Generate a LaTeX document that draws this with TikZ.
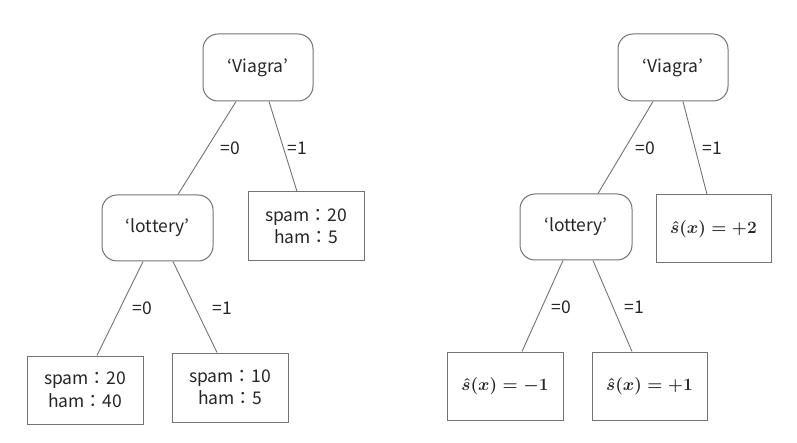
\documentclass[tikz,border=0pt]{standalone}
\usepackage{fontspec}
\setmainfont{Noto Sans CJK JP}
\usetikzlibrary{calc}
\begin{document}
\begin{tikzpicture}[x=1pt,y=-1pt,
  txt/.style={font=\fontsize{17.5}{22.5}\selectfont, text=black!85},
  test/.style={txt, draw=black!55, line width=1pt, rounded corners=15pt, inner sep=0pt},
  leaf/.style={txt, draw=black!55, line width=1pt, inner sep=0pt, align=center},
  mleaf/.style={leaf, font=\fontsize{17}{21}\selectfont\boldmath},
  edge/.style={draw=black!55, line width=0.9pt},
  lbl/.style={txt, inner sep=0pt}]
\useasboundingbox (0,0) rectangle (797,443);
% left tree
\node[test, minimum width=110pt, minimum height=67pt] (v1) at (258,67.5) {‘Viagra’};
\node[test, minimum width=111pt, minimum height=66pt] (l1) at (157.5,228) {‘lottery’};
\node[leaf, minimum width=116pt, minimum height=69pt] (a1) at (306,226.5) {spam：20\\ham：5};
\node[leaf, minimum width=116pt, minimum height=68pt] (b1) at (85,390) {spam：20\\ham：40};
\node[leaf, minimum width=116pt, minimum height=69pt] (c1) at (230,387.5) {spam：10\\ham：5};
\draw[edge] ([xshift=-22pt]v1.south) -- ([xshift=20.5pt]l1.north);
\draw[edge] ([xshift=11pt]v1.south) -- ([xshift=-9pt]a1.north);
\draw[edge] ([xshift=-14.5pt]l1.south) -- ([xshift=12pt]b1.north);
\draw[edge] ([xshift=15.5pt]l1.south) -- ([xshift=-13pt]c1.north);
\node[lbl] (e1) at (230,148) {=0};
\node[lbl] (e2) at (297,148) {=1};
\node[lbl] (e3) at (142,308) {=0};
\node[lbl] (e4) at (222,308) {=1};
% right tree
\node[test, minimum width=110pt, minimum height=67pt] (v2) at (673,67.5) {‘Viagra’};
\node[test, minimum width=112pt, minimum height=66pt] (l2) at (576,227) {‘lottery’};
\node[mleaf, minimum width=115pt, minimum height=68pt] (a2) at (713.5,229) {$\hat{s}(x)=+2$};
\node[mleaf, minimum width=116pt, minimum height=68pt] (b2) at (505,386) {$\hat{s}(x)=-1$};
\node[mleaf, minimum width=115pt, minimum height=68pt] (c2) at (649.5,386) {$\hat{s}(x)=+1$};
\draw[edge] ([xshift=-20pt]v2.south) -- ([xshift=22pt]l2.north);
\draw[edge] ([xshift=10pt]v2.south) -- ([xshift=-6.5pt]a2.north);
\draw[edge] ([xshift=-13pt]l2.south) -- ([xshift=17pt]b2.north);
\draw[edge] ([xshift=17pt]l2.south) -- ([xshift=-17.5pt]c2.north);
\node[lbl] (f1) at (645,148) {=0};
\node[lbl] (f2) at (712,148) {=1};
\node[lbl] (f3) at (561,307) {=0};
\node[lbl] (f4) at (634,307) {=1};
\end{tikzpicture}
\end{document}
